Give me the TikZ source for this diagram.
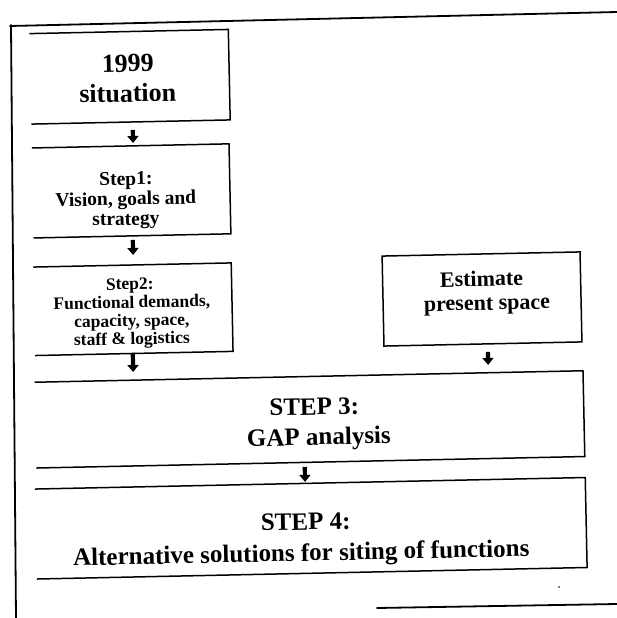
\documentclass[tikz,border=0pt]{standalone}
\usepackage{fontspec}
\setmainfont{Liberation Serif}
\usetikzlibrary{arrows.meta}
\begin{document}
\begin{tikzpicture}[x=1pt,y=-1pt,
  frame/.style={line width=1.8pt, line cap=round},
  boxline/.style={line width=1.5pt, line join=miter},
  boxnode/.style={inner sep=0pt, outer sep=0pt},
  blk/.style={line width=4.2pt, -{Triangle[width=11pt,length=7pt]}},
  lbl/.style={anchor=base, inner sep=0pt, font=\bfseries\fontsize{#1}{#1}\selectfont},
]
\useasboundingbox (0,0) rectangle (617,618);
\fill[white] (0,0) rectangle (617,618);

% outer frame
\draw[frame] (10,26) -- (617,12);
\draw[frame] (11,25) -- (16,618);
\draw[frame] (377,608) -- (617,604);
\fill (559,587) circle (0.9);

\begin{scope}[rotate around={1.2:(300,300)}, transform shape]
  % boxes
  \node[boxnode, minimum width=199pt, minimum height=90.5pt] (b1999) at (134.5,73.25) {};
  \node[boxnode, minimum width=197.3pt, minimum height=90pt] (s1) at (133.65,187.4) {};
  \node[boxnode, minimum width=198pt, minimum height=88.5pt] (s2) at (133,305.75) {};
  \node[boxnode, draw, line width=1.5pt, minimum width=198pt, minimum height=90pt] (est) at (482,302.8) {};
  \node[boxnode, minimum width=548.5pt, minimum height=85.8pt] (s3) at (307.25,419.6) {};
  \node[boxnode, minimum width=550.5pt, minimum height=90pt] (s4) at (306.25,528.5) {};

  \foreach \b in {b1999,s1,s2,s3,s4}
    \draw[boxline] (\b.north west) -- (\b.north east) -- (\b.south east) -- (\b.south west);

  % texts
  \node[lbl=26] (t0a) at (132.8,68.4) {1999};
  \node[lbl=26] (t0b) at (132.2,98.4) {situation};

  \node[lbl=19.5] (t1a) at (128.4,181.5) {Step1:};
  \node[lbl=19.5] (t1b) at (128,201.5) {Vision, goals and};
  \node[lbl=19.5] (t1c) at (127.6,221.5) {strategy};

  \node[lbl=17.5] (t2a) at (130.2,286) {Step2:};
  \node[lbl=17.5] (t2b) at (131.8,304.5) {Functional demands,};
  \node[lbl=17.5] (t2c) at (131.5,323) {capacity, space,};
  \node[lbl=17.5] (t2d) at (131.1,341) {staff \& logistics};

  \node[lbl=22] (tea) at (481.9,290) {Estimate};
  \node[lbl=22] (teb) at (486.9,314) {present space};

  \node[lbl=25] (t3a) at (312,415.3) {STEP 3:};
  \node[lbl=25] (t3b) at (316,445.3) {GAP analysis};

  \node[lbl=25] (t4a) at (301,530) {STEP 4:};
  \node[lbl=25] (t4b) at (296,561) {Alternative solutions for siting of functions};

  % flow arrows
  \draw[blk] ([xshift=1.9pt,yshift=-8pt]b1999.south) -- ([xshift=2.75pt,yshift=2.9pt]s1.north);
  \draw[blk] ([xshift=0.45pt,yshift=-4.1pt]s1.south) -- ([xshift=1.1pt,yshift=10pt]s2.north);
  \draw[blk] ([xshift=-1.3pt,yshift=0.5pt]s2.south) -- ([xshift=-1.3pt,yshift=-18.5pt]s2.south);
  \draw[blk] ([xshift=4.8pt,yshift=-8pt]est.south) -- ([xshift=4.8pt,yshift=-21.1pt]est.south);
  \draw[blk] ([xshift=-5.95pt,yshift=-4.5pt]s3.south) -- ([xshift=-4.95pt,yshift=1.5pt]s4.north);
\end{scope}
\end{tikzpicture}
\end{document}
